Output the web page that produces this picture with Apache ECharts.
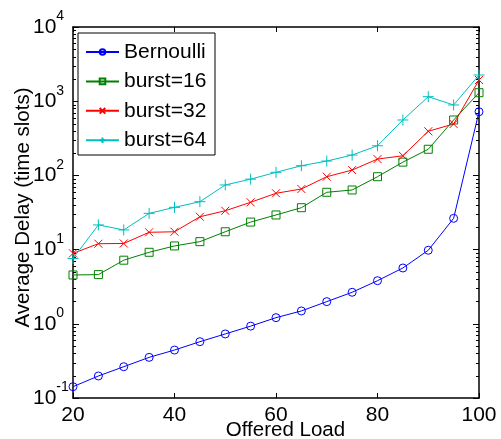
<!DOCTYPE html>
<html>
<head>
<meta charset="utf-8">
<script src="https://cdn.jsdelivr.net/npm/echarts@6/dist/echarts.min.js"></script>
<style>
  html, body { margin: 0; padding: 0; background: #fff; }
  #chart { width: 501px; height: 439px; }
</style>
</head>
<body>
<div id="chart"></div>
<script>
// Offered load (%) on the x axis
const offeredLoad = [20, 25, 30, 35, 40, 45, 50, 55, 60, 65, 70, 75, 80, 85, 90, 95, 100];

// Average delay in time slots for each traffic model
const bernoulli = [0.142, 0.198, 0.264, 0.353, 0.443, 0.574, 0.73, 0.93, 1.21, 1.49, 1.99, 2.66, 3.81, 5.65, 9.8, 26.4, 721];
const burst16   = [4.55, 4.6, 7.2, 9.2, 11.2, 12.8, 17.4, 23.5, 29.3, 36.7, 59.2, 63.6, 96, 151, 225, 558, 1302];
const burst32   = [8.9, 12.0, 12.1, 17.1, 17.4, 27.7, 33.4, 43.4, 57.4, 65.6, 96, 118, 166, 184, 393, 493, 1930];
const burst64   = [7.6, 21.5, 18.4, 30.8, 37.1, 44.2, 74.3, 89, 110, 135, 156, 188, 251, 558, 1150, 889, 2254];

const seriesNames = ['Bernoulli', 'burst=16', 'burst=32', 'burst=64'];

// Axis ranges
const xTicks = [20, 40, 60, 80, 100];
const yMin = 0.1, yMax = 10000;

// Minor log ticks (2..9 within each decade)
const minorTicks = [];
for (let e = -1; e < 4; e++) {
  for (let m = 2; m <= 9; m++) minorTicks.push(m * Math.pow(10, e));
}

const FONT = '"Liberation Sans", Arial, sans-serif';
const xMin = xTicks[0], xMax = xTicks[xTicks.length - 1];

function pairs(vals) { return offeredLoad.map((x, i) => [x, vals[i]]); }

const crossPath = 'path://M0,0L10,10M10,0L0,10';
const plusPath = 'path://M5,0L5,10M0,5L10,5';

function lineSeries(name, vals, color, symbol, size) {
  return {
    name: name,
    type: 'line',
    data: pairs(vals),
    symbol: symbol,
    symbolSize: size,
    lineStyle: { color: color, width: 1 },
    itemStyle: { color: 'rgba(0,0,0,0)', borderColor: color, borderWidth: 1 },
    emphasis: { disabled: true },
    animation: false,
    z: 3
  };
}

const chart = echarts.init(document.getElementById('chart'), null, { renderer: 'canvas' });

const yLabelRich = {
  b: { fontSize: 21, fontFamily: FONT, color: '#000', lineHeight: 35 },
  s: { fontSize: 14, fontFamily: FONT, color: '#000', lineHeight: 14, verticalAlign: 'top' }
};

const option = {
  backgroundColor: '#fff',
  animation: false,
  grid: { left: 73, right: 22, top: 27, bottom: 41, containLabel: false, outerBoundsMode: 'none' },
  legend: {
    data: seriesNames,
    left: 78,
    top: 33,
    orient: 'vertical',
    backgroundColor: '#fff',
    borderColor: '#000',
    borderWidth: 1,
    borderRadius: 0,
    padding: [8.5, 8.7, 4.3, 7],
    itemWidth: 33,
    itemHeight: 7,
    itemGap: 8.4,
    selectedMode: false,
    textStyle: { fontSize: 21, fontFamily: FONT, color: '#000', lineHeight: 21 }
  },
  xAxis: [
    {
      type: 'value', position: 'bottom', min: xMin, max: xMax, interval: 20,
      name: 'Offered Load', nameLocation: 'middle', nameGap: 22, nameMoveOverlap: false,
      nameTextStyle: { fontSize: 20.5, fontFamily: FONT, color: '#000', padding: [0, 0, 0, 19] },
      axisLine: { lineStyle: { color: '#000', width: 1.5 } },
      axisTick: { inside: true, length: 5, lineStyle: { color: '#000', width: 1 } },
      axisLabel: { fontSize: 21, fontFamily: FONT, color: '#000', margin: 7 },
      splitLine: { show: false }
    },
    {
      type: 'value', position: 'top', min: xMin, max: xMax, interval: 20,
      axisLine: { lineStyle: { color: '#000', width: 1.5 } },
      axisTick: { inside: true, length: 5, lineStyle: { color: '#000', width: 1 } },
      axisLabel: { show: false },
      splitLine: { show: false }
    }
  ],
  yAxis: [
    {
      type: 'log', logBase: 10, min: yMin, max: yMax, position: 'left',
      name: 'Average Delay (time slots)', nameLocation: 'middle', nameGap: 39, nameMoveOverlap: false,
      nameTextStyle: { fontSize: 20.5, fontFamily: FONT, color: '#000', padding: [0, 0, 0, 10] },
      axisLine: { lineStyle: { color: '#000', width: 1.5 } },
      axisTick: { inside: true, length: 6, lineStyle: { color: '#000', width: 1 } },
      axisLabel: {
        margin: 40, align: 'left',
        formatter: function (v) {
          const e = Math.round(Math.log10(v));
          return '{b|10}{s|' + e + '}';
        },
        rich: yLabelRich
      },
      splitLine: { show: false }
    },
    {
      type: 'log', logBase: 10, min: yMin, max: yMax, position: 'right',
      axisLine: { lineStyle: { color: '#000', width: 1.5 } },
      axisTick: { inside: true, length: 6, lineStyle: { color: '#000', width: 1 } },
      axisLabel: { show: false },
      splitLine: { show: false }
    }
  ],
  series: [
    lineSeries('Bernoulli', bernoulli, '#0000ff', 'circle', 8),
    lineSeries('burst=16', burst16, '#008000', 'rect', 8),
    lineSeries('burst=32', burst32, '#ff0000', crossPath, 8),
    lineSeries('burst=64', burst64, '#00bfbf', plusPath, 11),
    {
      // minor log ticks along both vertical frame edges
      type: 'custom',
      data: minorTicks.map(v => [xMin, v]),
      encode: { x: 0, y: 1 },
      silent: true,
      clip: false,
      z: 1,
      renderItem: function (params, api) {
        const cs = params.coordSys;
        const y = Math.round(api.coord([xMin, api.value(1)])[1]) + 0.5;
        const len = 3;
        return {
          type: 'group',
          children: [
            { type: 'line', shape: { x1: cs.x, y1: y, x2: cs.x + len, y2: y }, style: { stroke: '#000', lineWidth: 1 } },
            { type: 'line', shape: { x1: cs.x + cs.width, y1: y, x2: cs.x + cs.width - len, y2: y }, style: { stroke: '#000', lineWidth: 1 } }
          ]
        };
      }
    }
  ]
};

chart.setOption(option);
</script>
</body>
</html>
